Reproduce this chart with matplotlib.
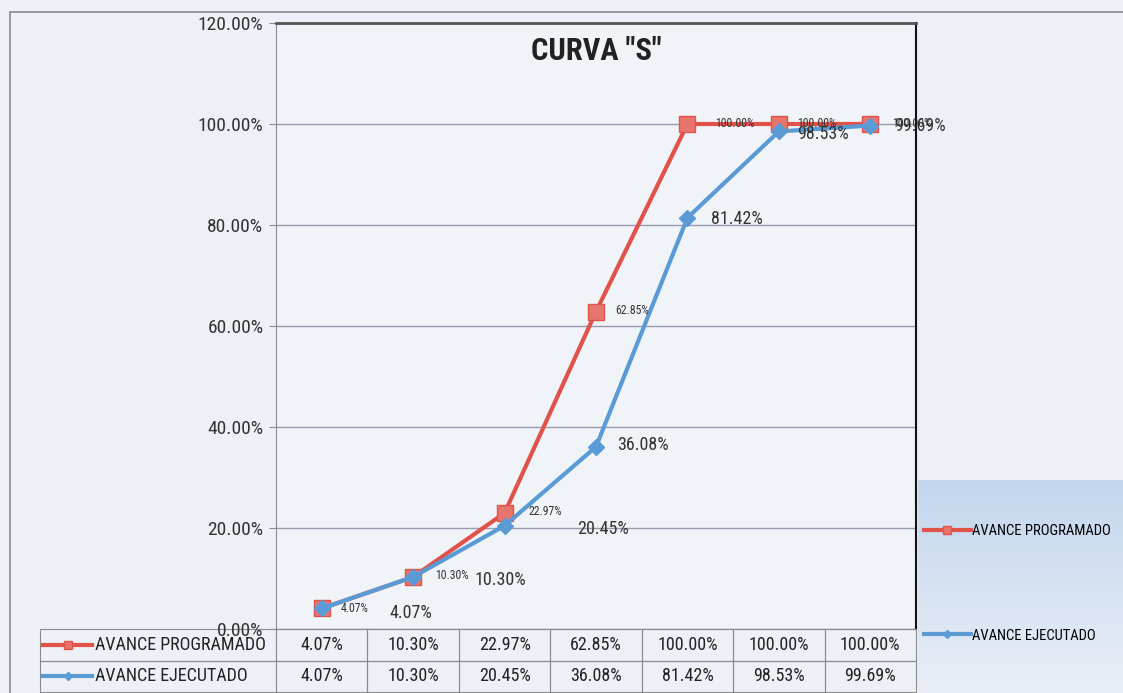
import matplotlib
matplotlib.use("Agg")
import matplotlib.pyplot as plt
from matplotlib import font_manager
import numpy as np

# ========================================================================
# data
periods = ["1", "2", "3", "4", "5", "6", "7"]
programado = [4.07, 10.30, 22.97, 62.85, 100.00, 100.00, 100.00]
ejecutado = [4.07, 10.30, 20.45, 36.08, 81.42, 98.53, 99.69]
label_prog = "AVANCE PROGRAMADO"
label_ejec = "AVANCE EJECUTADO"
yticks = [0, 20, 40, 60, 80, 100, 120]

# label offsets in points (x, y)
off_prog = [(14, 0), (16, 1), (17, 1), (14, 1), (20, 0), (13, 0), (16, 0)]
off_ejec = [(49, -3), (44, -2), (52, -2), (15, 1), (17, -1), (13, -2), (17, 0)]

RED = "#e0524a"
RED_M = "#e8756c"
BLUE = "#5b9bd5"
BG = "#edf1f7"

# ========================================================================
def pick_font():
    for name in ["Liberation Sans Narrow", "Roboto Condensed", "DejaVu Sans"]:
        try:
            font_manager.findfont(name, fallback_to_default=False)
            return name
        except Exception:
            pass
    return "DejaVu Sans"

def main():
    fam = pick_font()
    plt.rcParams["font.family"] = [fam, "DejaVu Sans"]

    fig = plt.figure(figsize=(11.23, 6.93), dpi=100, facecolor=BG)
    W, H = 1123.0, 693.0

    # outer chart border
    fig.patches.append(plt.Rectangle((10 / W, -0.01), 1.05, 1 - 12 / H + 0.01,
                                     transform=fig.transFigure, fill=False,
                                     edgecolor="#8a8a8a", lw=1.2))

    # blue gradient panel on the right
    pax = fig.add_axes([918 / W, 0, 1 - 918 / W, (693 - 480) / H])
    grad = np.linspace(0, 1, 100).reshape(-1, 1)
    pax.imshow(grad, aspect="auto", cmap=matplotlib.colors.LinearSegmentedColormap.from_list(
        "g", ["#c3d6ee", "#e9eef6"]), extent=[0, 1, 0, 1], origin="upper")
    pax.set_xlim(0, 1)
    pax.set_ylim(0, 1)
    pax.axis("off")

    ax = fig.add_axes([276 / W, 1 - 629 / H, 640 / W, (629 - 23) / H])
    ax.set_facecolor("#f0f3f8")
    x = np.arange(len(periods))
    p = np.array(programado) / 100
    e = np.array(ejecutado) / 100

    lp, = ax.plot(x, p, color=RED, lw=3, marker="s", ms=11, mfc=RED_M,
                  mec=RED, zorder=3, label=label_prog)
    le, = ax.plot(x, e, color=BLUE, lw=3, marker="D", ms=8, mfc=BLUE,
                  mec=BLUE, zorder=4, label=label_ejec)

    for i in range(len(x)):
        ax.annotate("%.2f%%" % programado[i], (x[i], p[i]), xytext=off_prog[i],
                    textcoords="offset points", fontsize=8.5, va="center",
                    ha="left", color="#333333", zorder=5)
        ax.annotate("%.2f%%" % ejecutado[i], (x[i], e[i]), xytext=off_ejec[i],
                    textcoords="offset points", fontsize=13, va="center",
                    ha="left", color="#333333", zorder=5)

    ax.set_xlim(-0.5, len(x) - 0.5)
    ax.set_ylim(0, 1.2)
    ax.set_yticks([v / 100 for v in yticks])
    ax.set_yticklabels(["%.2f%%" % v for v in yticks], fontsize=14, color="#333333")
    ax.set_xticks([])
    ax.tick_params(axis="y", length=5, color="#8a8a8a", pad=4)
    ax.grid(axis="y", color="#9a9aae", lw=1)
    ax.set_axisbelow(True)
    ax.spines["left"].set_color("#8a8a8a")
    ax.spines["bottom"].set_color("#8a8a8a")
    ax.spines["top"].set_color("#555555")
    ax.spines["top"].set_linewidth(2)
    ax.spines["right"].set_color("#111111")
    ax.spines["right"].set_linewidth(1.5)

    ax.text(0.5, 0.953, 'CURVA "S"', transform=ax.transAxes, ha="center",
            va="center", fontsize=22, fontweight="bold", color="#222222")

    # data table under the plot
    cells = [[label_prog] + ["%.2f%%" % v for v in programado],
             [label_ejec] + ["%.2f%%" % v for v in ejecutado]]
    left = (40 - 276) / 640.0
    head_w = -left
    col_w = 1.0 / len(periods)
    tab = ax.table(cellText=cells, colWidths=[head_w] + [col_w] * len(periods),
                   bbox=[left, -(693 - 630) / 606.0, 1 - left, (693 - 630) / 606.0],
                   cellLoc="center")
    tab.auto_set_font_size(False)
    for (r, c), cell in tab.get_celld().items():
        cell.set_edgecolor("#8a8a8a")
        cell.set_facecolor("none")
        cell.set_linewidth(0.8)
        cell.get_text().set_fontsize(13)
        cell.get_text().set_color("#222222")
        if c == 0:
            cell.get_text().set_ha("left")
            cell._loc = "left"
            cell.PAD = 0.235

    # legend keys inside the table header cells
    for k, (col, mk, ms, mfc) in enumerate([(RED, "s", 6, RED_M), (BLUE, "D", 4, BLUE)]):
        yy = -(630 - 629 + 15 + 31 * k) / 606.0
        ax.plot([left + 0.005, left + 0.082], [yy, yy], color=col, lw=3,
                transform=ax.transAxes, clip_on=False, zorder=6)
        ax.plot([left + 0.043], [yy], color=col, marker=mk, ms=ms, mfc=mfc,
                mec=col, transform=ax.transAxes, clip_on=False, zorder=7)

    # legend on the right panel
    pax.legend([lp, le], [label_prog, label_ejec], loc="upper left",
               bbox_to_anchor=(0.0, 0.82), frameon=False, fontsize=10.5,
               handlelength=3.2, labelspacing=6.2, markerscale=0.5,
               handletextpad=0.1, borderaxespad=0)

    fig.savefig("out.png", dpi=100, facecolor=BG)

if __name__ == "__main__":
    main()
